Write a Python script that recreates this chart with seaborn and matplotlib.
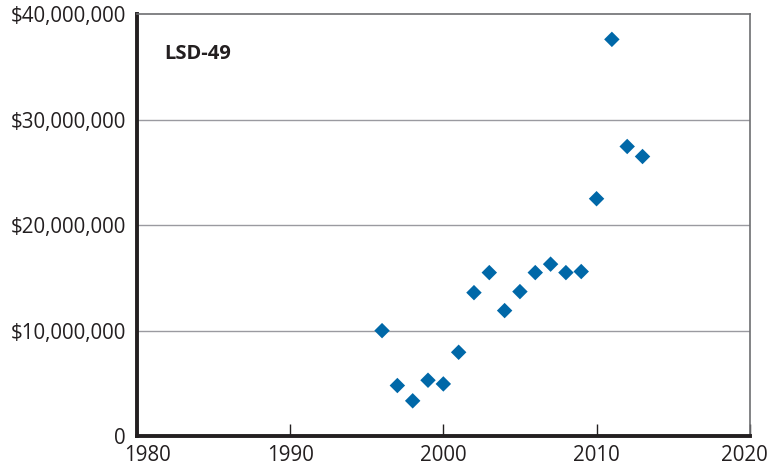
import matplotlib
matplotlib.use("Agg")
import matplotlib.pyplot as plt
import matplotlib.transforms as mtransforms
import seaborn as sns
import pandas as pd
from matplotlib.ticker import FuncFormatter

years = [1996, 1997, 1998, 1999, 2000, 2001, 2002, 2003, 2004, 2005,
         2006, 2007, 2008, 2009, 2010, 2011, 2012, 2013]
values = [10.0, 4.8, 3.35, 5.3, 4.95, 7.95, 13.6, 15.5, 11.9, 13.7,
          15.5, 16.3, 15.5, 15.6, 22.5, 37.6, 27.45, 26.5]  # millions of dollars
x_ticks = [1980, 1990, 2000, 2010, 2020]
y_ticks = [0, 10e6, 20e6, 30e6, 40e6]
label = "LSD-49"

df = pd.DataFrame({"year": years, "cost": [v * 1e6 for v in values]})

sns.set_style("white")
plt.rcParams['font.family'] = ['Open Sans', 'DejaVu Sans']

fig = plt.figure(figsize=(7.69, 4.68), dpi=100)
ax = fig.add_axes([0.178, 0.068, 0.797, 0.902])

for yv in y_ticks[1:-1]:
    ax.axhline(yv, color="#9a9aa0", lw=1.0, zorder=0)

sns.scatterplot(data=df, x="year", y="cost", marker="D", s=62,
                color="#0068a8", edgecolor="none", ax=ax, zorder=3)

ax.set_xlim(1980, 2020)
ax.set_ylim(0, 40e6)
ax.set_xticks(x_ticks)
ax.set_yticks(y_ticks)
ax.yaxis.set_major_formatter(FuncFormatter(lambda v, p: "0" if v == 0 else f"${v:,.0f}"))
ax.set_xlabel("")
ax.set_ylabel("")

ax.tick_params(axis="x", direction="in", length=9, width=1.0, color="#231f20",
               labelsize=14.8, pad=6.5, bottom=True)
ax.tick_params(axis="y", length=0, labelsize=14.8, pad=8)
for lab in ax.get_xticklabels() + ax.get_yticklabels():
    lab.set_color("#231f20")

xlabs = ax.get_xticklabels()
xlabs[0].set_transform(xlabs[0].get_transform() +
                       mtransforms.ScaledTranslation(11 / 100, 0, fig.dpi_scale_trans))
xlabs[-1].set_transform(xlabs[-1].get_transform() +
                        mtransforms.ScaledTranslation(-5 / 100, 0, fig.dpi_scale_trans))

for side in ["left", "bottom"]:
    ax.spines[side].set_color("#231f20")
    ax.spines[side].set_linewidth(2.8)
for side in ["top", "right"]:
    ax.spines[side].set_color("#6d6e71")
    ax.spines[side].set_linewidth(1.2)

ax.text(0.045, 0.905, label, transform=ax.transAxes, fontsize=14.5,
        fontweight="bold", color="#231f20", va="center", ha="left")

fig.savefig("out.png", dpi=100)
